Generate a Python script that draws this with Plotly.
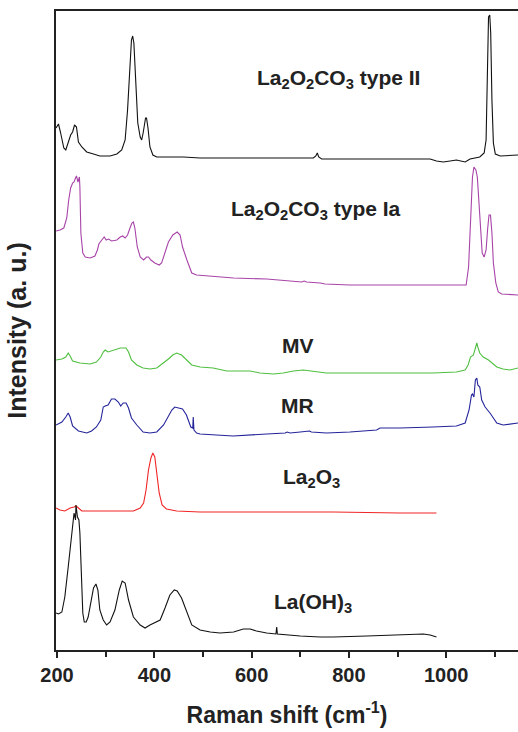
import plotly.graph_objects as go

# Raman shift (cm-1) and stacked intensity (a.u.)
x_type2 = [198, 203, 207, 214, 218, 223, 228, 232, 236, 240, 244, 251, 261, 275, 288, 309, 323, 333, 340, 345, 349, 353, 355.5, 358, 362, 366, 371, 374, 377, 382, 384, 387, 391, 397, 405, 439, 460, 494, 562, 631, 700, 727, 732, 735, 738, 744, 836, 905, 967, 980, 994, 1008, 1021, 1039, 1049, 1069, 1078, 1082, 1084.5, 1087, 1089.5, 1091.5, 1094, 1097, 1101, 1111, 1148]
y_type2 = [522, 526, 518, 502, 500, 507, 515, 518, 525, 523, 508, 503, 498, 496, 494, 494, 496, 500, 510, 540, 583, 610, 614, 607, 567, 527, 513, 510, 517, 532, 532, 522, 503, 495, 493, 493, 493, 492, 492, 492, 492, 492, 494, 497, 493, 491, 491, 491, 491, 489, 488, 489, 490, 488, 491, 493, 497, 510, 583, 633, 635, 617, 550, 507, 496, 494, 495]

x_type1a = [198, 206, 214, 220, 224, 228, 232, 235, 238, 240, 243, 246, 247, 249, 253, 258, 268, 278, 283, 286, 292, 297, 301, 306, 312, 323, 330, 335, 340, 345, 350, 354, 357, 360, 365, 371, 378, 384, 388, 393, 401, 410, 415, 422, 429, 438, 447, 453, 458, 467, 477, 487, 528, 563, 631, 686, 703, 708, 713, 741, 751, 802, 871, 939, 1008, 1041, 1046, 1050, 1054, 1057, 1061, 1064, 1067, 1071, 1074, 1078, 1082, 1085, 1088, 1091, 1094, 1097, 1102, 1107, 1114, 1148]
y_type1a = [419, 420, 422, 432, 450, 462, 467, 468, 472, 474, 468, 473, 463, 417, 397, 393, 392, 394, 400, 406, 410, 413, 410, 411, 409, 410, 413, 414, 412, 415, 422, 427, 428, 422, 403, 393, 390, 393, 393, 390, 387, 385, 387, 397, 408, 415, 418, 415, 403, 390, 377, 375, 373, 372, 371, 369, 368, 369, 368, 367, 366, 365, 365, 365, 365, 365, 383, 433, 473, 483, 480, 473, 450, 417, 397, 393, 400, 420, 435, 435, 417, 387, 367, 358, 356, 355]

x_mv = [198, 210, 218, 223, 227, 232, 247, 268, 281, 290, 295, 299, 305, 316, 330, 342, 347, 353, 364, 377, 391, 405, 419, 429, 438, 446, 456, 466, 477, 494, 521, 549, 576, 597, 617, 645, 665, 686, 706, 727, 754, 782, 836, 905, 973, 1021, 1039, 1045, 1050, 1056, 1060, 1063, 1065, 1069, 1076, 1087, 1104, 1117, 1131, 1148]
y_mv = [290, 291, 293, 297, 294, 289, 287, 286, 288, 293, 298, 300, 298, 300, 302, 302, 298, 290, 285, 282, 281, 282, 287, 291, 295, 297, 295, 290, 285, 283, 282, 279, 279, 279, 277, 276, 277, 279, 280, 279, 277, 277, 277, 277, 277, 278, 280, 285, 293, 295, 302, 307, 303, 297, 293, 290, 283, 281, 280, 282]

x_mr = [198, 210, 218, 223, 227, 232, 244, 261, 271, 281, 290, 295, 299, 305, 312, 319, 326, 331, 336, 342, 347, 353, 364, 377, 391, 405, 419, 429, 436, 442, 449, 458, 466, 475, 479, 480, 481.5, 487, 494, 521, 562, 631, 669, 673, 679, 700, 713, 719, 723, 754, 802, 857, 864, 905, 973, 1021, 1039, 1047, 1052, 1054, 1057, 1060, 1063, 1065, 1069, 1073, 1080, 1090, 1104, 1117, 1148]
y_mr = [225, 228, 233, 237, 233, 224, 219, 217, 219, 223, 230, 243, 244, 245, 251, 251, 248, 244, 247, 247, 242, 232, 225, 218, 217, 218, 225, 233, 240, 243, 242, 241, 235, 223, 222, 233, 220, 217, 216, 215, 214, 216, 217, 218, 217, 218, 219, 219, 218, 217, 218, 220, 222, 222, 223, 224, 227, 240, 255, 256, 253, 270, 272, 265, 263, 250, 243, 237, 227, 225, 227]

x_la2o3 = [198, 206, 216, 227, 235, 239, 244, 251, 268, 323, 357, 371, 378, 383, 388, 393, 397, 401, 405, 410, 416, 425, 446, 494, 631, 768, 905, 980]
y_la2o3 = [142, 140, 139, 142, 143, 144, 142, 139, 139, 139, 139, 142, 147, 160, 180, 192, 197, 193, 177, 157, 145, 141, 139, 138, 138, 138, 137, 137]

x_laoh3 = [198, 203, 210, 216, 223, 228, 232, 235, 238, 239, 242, 245, 247, 250, 253, 256, 260, 264, 269, 275, 280, 284, 288, 295, 302, 309, 319, 328, 334, 340, 347, 357, 371, 381, 391, 401, 412, 422, 432, 441, 447, 456, 467, 477, 494, 515, 535, 563, 583, 597, 610, 631, 650, 651.6, 653, 672, 700, 741, 768, 837, 905, 953, 967, 977, 980]
y_laoh3 = [37, 36, 38, 53, 83, 107, 127, 137, 130, 145, 133, 130, 117, 77, 37, 28, 28, 33, 47, 62, 66, 60, 40, 30, 25, 28, 40, 60, 69, 67, 50, 33, 25, 22, 25, 27, 30, 42, 55, 60, 59, 52, 37, 25, 20, 18, 17, 18, 21, 21, 19, 17, 16, 23, 16, 15, 14, 13, 13, 14, 15, 16, 15, 13, 13]

series = [
    (x_type2, y_type2, "#111111"),
    (x_type1a, y_type1a, "#a844a8"),
    (x_mv, y_mv, "#4fbf3f"),
    (x_mr, y_mr, "#24249a"),
    (x_la2o3, y_la2o3, "#f02525"),
    (x_laoh3, y_laoh3, "#111111"),
]

labels = ["La<sub>2</sub>O<sub>2</sub>CO<sub>3</sub> type II",
          "La<sub>2</sub>O<sub>2</sub>CO<sub>3</sub> type Ia",
          "MV", "MR", "La<sub>2</sub>O<sub>3</sub>", "La(OH)<sub>3</sub>"]
label_x = [778, 733, 695, 694, 723, 726]
label_y = [571, 440, 305, 245, 172, 47]

x_ticks = [200, 400, 600, 800, 1000]

fig = go.Figure()
for xs, ys, c in series:
    fig.add_trace(go.Scatter(x=xs, y=ys, mode="lines",
                             line=dict(color=c, width=1.1),
                             showlegend=False, hoverinfo="skip"))

for t, xv, yv in zip(labels, label_x, label_y):
    fig.add_annotation(x=xv, y=yv, text=t, showarrow=False,
                       xanchor="center", yanchor="middle",
                       font=dict(family="Liberation Sans, Arial, sans-serif",
                                 size=21, color="#222222", weight="bold"))

fig.update_layout(
    width=518, height=732,
    margin=dict(l=56, r=0, t=11, b=82),
    paper_bgcolor="white", plot_bgcolor="white",
    font=dict(family="Liberation Sans, Arial, sans-serif", color="#222222"),
    xaxis=dict(range=[197.9, 1147.6], tickvals=x_ticks,
               ticktext=[str(v) for v in x_ticks],
               ticks="outside", ticklen=6, tickwidth=1.5, tickcolor="#222222",
               minor=dict(dtick=100, tick0=200, ticks="outside", ticklen=5,
                          tickwidth=1.5, tickcolor="#222222"),
               showline=True, linecolor="#222222", linewidth=2, mirror=True,
               showgrid=False, zeroline=False,
               tickfont=dict(size=20, weight="bold", color="#222222"),
               title=dict(text="Raman shift (cm<sup>-1</sup>)",
                          font=dict(size=23, weight="bold", color="#222222"),
                          standoff=22)),
    yaxis=dict(range=[0, 639], showticklabels=False, ticks="",
               showline=True, linecolor="#222222", linewidth=2,
               showgrid=False, zeroline=False,
               title=dict(text="Intensity (a. u.)",
                          font=dict(size=25, weight="bold", color="#222222"),
                          standoff=20)),
)

fig.write_html("out.html")
